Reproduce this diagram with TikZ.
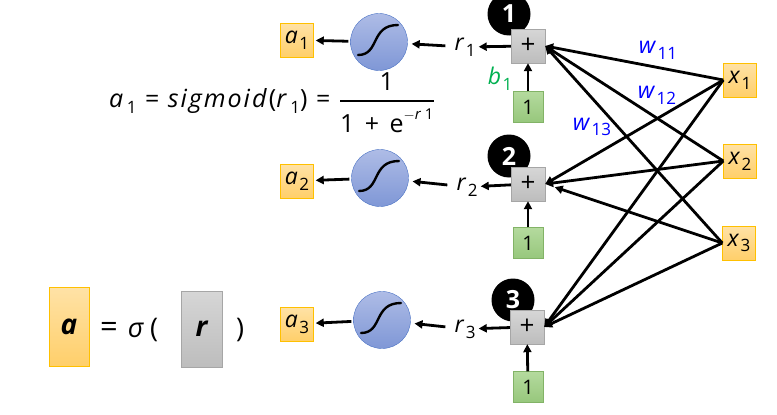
\documentclass[tikz,border=0pt]{standalone}
\usepackage{fontspec}
\usepackage{amsmath}
\setmainfont{Open Sans}
\usetikzlibrary{arrows.meta, positioning, shapes.geometric}
\definecolor{NetOrangeTop}{HTML}{FFE2A6}
\definecolor{NetOrangeBot}{HTML}{FFCF6A}
\definecolor{NetOrangeLine}{HTML}{FFC000}
\definecolor{NetGrayTop}{HTML}{D6D6D6}
\definecolor{NetGrayBot}{HTML}{BDBDBD}
\definecolor{NetGrayLine}{HTML}{A6A6A6}
\definecolor{NetGreenTop}{HTML}{B4DA9E}
\definecolor{NetGreenBot}{HTML}{97C77C}
\definecolor{NetGreenLine}{HTML}{82B366}
\definecolor{NetBlueTop}{HTML}{AEBCE6}
\definecolor{NetBlueBot}{HTML}{7F97D6}
\definecolor{NetBlueLine}{HTML}{4A72C4}
\definecolor{NetWeight}{HTML}{0000FF}
\definecolor{NetBias}{HTML}{00B050}
\newcommand{\vsub}[2]{\textit{#1}\kern1.5pt\raisebox{-0.25em}{\fontsize{17}{17}\selectfont #2}}

\begin{document}
\begin{tikzpicture}[x=1pt, y=-1pt,
    outbox/.style={
      rectangle, draw=NetOrangeLine, top color=NetOrangeTop, bottom color=NetOrangeBot,
      minimum width=33pt, minimum height=34pt, inner sep=0pt, font=\fontsize{23}{23}\selectfont
    },
    sumbox/.style={
      rectangle, draw=NetGrayLine, top color=NetGrayTop, bottom color=NetGrayBot,
      minimum width=34pt, minimum height=34pt, inner sep=0pt, font=\fontsize{26}{26}\selectfont
    },
    biasbox/.style={
      rectangle, draw=NetGreenLine, top color=NetGreenTop, bottom color=NetGreenBot,
      minimum width=30pt, minimum height=31pt, inner sep=0pt, font=\fontsize{20}{20}\selectfont
    },
    sigmoid/.style={
      circle, draw=NetBlueLine, top color=NetBlueTop, bottom color=NetBlueBot,
      minimum size=57pt, inner sep=0pt
    },
    numdot/.style={
      circle, fill=black, text=white, minimum size=43pt, inner sep=0pt,
      font=\fontsize{25}{25}\selectfont\bfseries
    },
    lbl/.style={inner sep=1pt, font=\fontsize{23}{23}\selectfont},
    wlbl/.style={lbl, text=NetWeight},
    arr/.style={-{Triangle[length=8pt, width=8pt]}, line width=2.8pt},
    scurve/.pic={
      \draw[line width=2.4pt, line cap=round] (-21,13) .. controls (1,13) and (-9,-17) .. (19,-17);
    }
  ]
    \useasboundingbox (0,0) rectangle (777,415);

    \node[numdot] (n1) at (509,14) {1};
    \node[numdot] (n2) at (509,156) {2};
    \node[numdot] (n3) at (513,300) {3};

    \node[outbox] (a1) at (297,40) {\vsub{a}{1}};
    \node[sigmoid] (s1) at (379,42) {};
    \pic at (s1) {scurve};
    \node[lbl] (r1) at (465,47) {\vsub{r}{1}};
    \node[sumbox] (sum1) at (528,46) {+};
    \node[biasbox] (one1) at (528,107) {1};

    \node[outbox] (a2) at (297,181) {\vsub{a}{2}};
    \node[sigmoid] (s2) at (380,178) {};
    \pic at (s2) {scurve};
    \node[lbl] (r2) at (467,187) {\vsub{r}{2}};
    \node[sumbox] (sum2) at (528,184) {+};
    \node[biasbox] (one2) at (528,243) {1};

    \node[outbox] (a3) at (297,324) {\vsub{a}{3}};
    \node[sigmoid] (s3) at (382,320) {};
    \pic at (s3) {scurve};
    \node[lbl] (r3) at (465,329) {\vsub{r}{3}};
    \node[sumbox] (sum3) at (527,327) {+};
    \node[biasbox] (one3) at (528,387) {1};

    \node[outbox] (x1) at (740,80) {\vsub{x}{1}};
    \node[outbox] (x2) at (740,161) {\vsub{x}{2}};
    \node[outbox] (x3) at (739,243) {\vsub{x}{3}};

    \foreach \i in {1,2,3} {
      \draw[arr, shorten <=2pt, shorten >=2pt] (s\i) -- (a\i);
      \draw[arr, shorten <=8pt, shorten >=4pt] (r\i) -- (s\i);
      \draw[arr, shorten >=2pt] (sum\i) -- (r\i);
      \draw[arr] (one\i) -- (sum\i);
    }
    \foreach \j in {1,2,3} {
      \draw[arr] (x\j.west) -- (sum1.east);
      \draw[arr] (x\j.west) -- (sum3.east);
    }
    \draw[arr] (x1.west) -- (sum2.east);
    \draw[arr] (x2.west) -- (sum2.east);
    \draw[arr, shorten >=10pt] (x3.west) -- (sum2.east);

    \node[wlbl] (w11) at (658,50) {\vsub{w}{11}};
    \node[wlbl] (w12) at (657,95) {\vsub{w}{12}};
    \node[wlbl] (w13) at (592,127) {\vsub{w}{13}};
    \node[lbl, text=NetBias] (b1) at (500,79) {\vsub{b}{1}};

    \node[lbl, anchor=base west] (eqn) at (108,107) {\fontsize{25}{25}\selectfont\addfontfeature{LetterSpace=8}%
      \vsub{a}{1} = \textit{sigmoid}(\vsub{r}{1}) =
      $\genfrac{}{}{2.2pt}{0}{\text{1}}{\text{1 \hspace{2pt}+\hspace{2pt} e\raisebox{0.55em}{\fontsize{15}{15}\selectfont$-$\textit{r}\,1}}}$};

    \node[outbox, minimum width=40pt, minimum height=79pt, font=\fontsize{28}{28}\selectfont] (avec) at (69,327) {\textbf{\textit{a}}};
    \node[sumbox, minimum width=41pt, minimum height=76pt, font=\fontsize{28}{28}\selectfont] (rvec) at (202,329) {\textbf{\textit{r}}};
    \node[lbl, anchor=west, font=\fontsize{27}{27}\selectfont] (sig) at (99,330) {{\fontsize{31}{31}\selectfont=}\hspace{10pt}\textit{σ}\hspace{6pt}(};
    \node[lbl, font=\fontsize{27}{27}\selectfont] (close) at (240,330) {)};
\end{tikzpicture}
\end{document}
